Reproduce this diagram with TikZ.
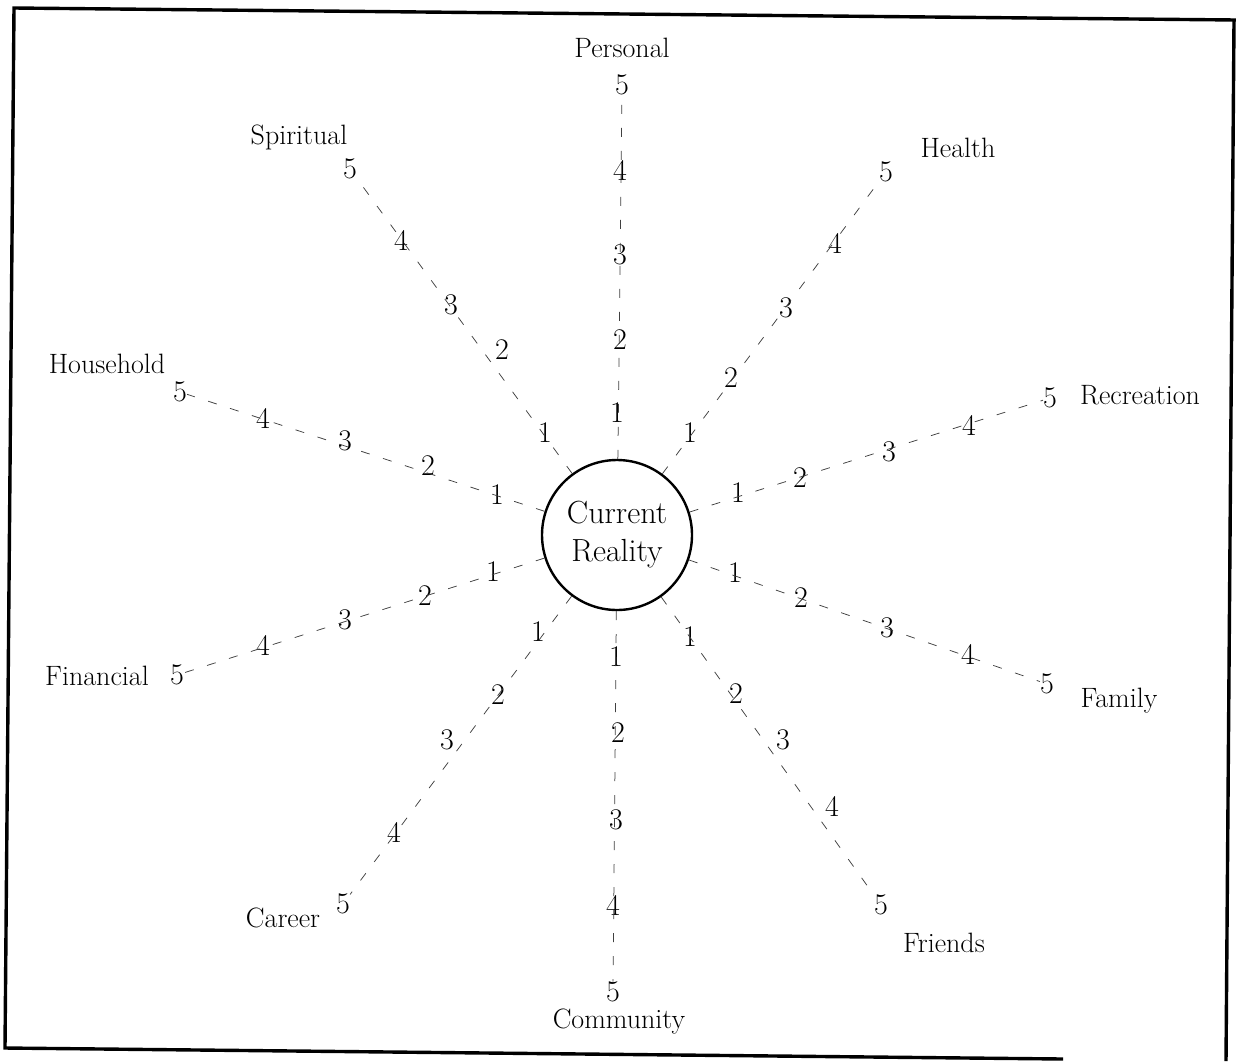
\documentclass[tikz,border=0pt]{standalone}
\tikzset{
  lbl/.style={font=\fontsize{28}{32}\selectfont, anchor=base, inner sep=0pt},
  num/.style={font=\fontsize{30}{34}\selectfont, inner sep=0pt},
  spoke/.style={draw=black!75, line width=0.75pt, dash pattern=on 9pt off 14pt},
  frame/.style={draw=black, line width=3.4pt},
  hub/.style={circle, draw=black, line width=2.4pt, minimum size=150pt, inner sep=0pt,
              align=center, font=\fontsize{32}{38}\selectfont},
}
\begin{document}
\begin{tikzpicture}[x=1pt,y=-1pt]
\useasboundingbox (0,0) rectangle (1236,1061);
% frame (slightly skewed, as scanned)
\coordinate (ftr) at (1236,20);
\coordinate (ftl) at (14,8);
\coordinate (fbl) at (5,1048);
\coordinate (fbr) at (1063,1059);
\coordinate (frt) at (1234,20);
\coordinate (frb) at (1226,1061);
\draw[frame] (ftr) -- (ftl) -- (fbl) -- (fbr);
\draw[frame] (frt) -- (frb);

% hub
\node[hub] (cr) at (617,535) {Current\\Reality};

% Personal
\node[num] (pe1) at (617,413) {1};
\node[num] (pe2) at (620,340) {2};
\node[num] (pe3) at (620,255) {3};
\node[num] (pe4) at (620,170) {4};
\node[num] (pe5) at (622,85) {5};
\node[lbl] (pe) at (622,57) {Personal};
% Health
\node[num] (he1) at (690,433) {1};
\node[num] (he2) at (731,378) {2};
\node[num] (he3) at (786,308) {3};
\node[num] (he4) at (835,243) {4};
\node[num] (he5) at (886,172) {5};
\node[lbl] (he) at (958,157) {Health};
% Recreation
\node[num] (re1) at (738,493) {1};
\node[num] (re2) at (800,478) {2};
\node[num] (re3) at (889,452) {3};
\node[num] (re4) at (969,425) {4};
\node[num] (re5) at (1050,398) {5};
\node[lbl] (re) at (1140,404) {Recreation};
% Family
\node[num] (fa1) at (735,573) {1};
\node[num] (fa2) at (801,598) {2};
\node[num] (fa3) at (887,628) {3};
\node[num] (fa4) at (968,654) {4};
\node[num] (fa5) at (1047,684) {5};
\node[lbl] (fa) at (1119,707) {Family};
% Friends
\node[num] (fr1) at (690,637) {1};
\node[num] (fr2) at (736,694) {2};
\node[num] (fr3) at (783,740) {3};
\node[num] (fr4) at (832,806) {4};
\node[num] (fr5) at (881,905) {5};
\node[lbl] (fr) at (944,952) {Friends};
% Community
\node[num] (co1) at (616,657) {1};
\node[num] (co2) at (618,733) {2};
\node[num] (co3) at (616,820) {3};
\node[num] (co4) at (613,905) {4};
\node[num] (co5) at (613,992) {5};
\node[lbl] (co) at (619,1028) {Community};
% Career
\node[num] (ca1) at (538,632) {1};
\node[num] (ca2) at (498,695) {2};
\node[num] (ca3) at (447,740) {3};
\node[num] (ca4) at (394,832) {4};
\node[num] (ca5) at (343,904) {5};
\node[lbl] (ca) at (283,927) {Career};
% Financial
\node[num] (fi1) at (493,572) {1};
\node[num] (fi2) at (425,596) {2};
\node[num] (fi3) at (345,620) {3};
\node[num] (fi4) at (263,645) {4};
\node[num] (fi5) at (177,675) {5};
\node[lbl] (fi) at (97,685) {Financial};
% Household
\node[num] (ho1) at (497,495) {1};
\node[num] (ho2) at (428,466) {2};
\node[num] (ho3) at (345,441) {3};
\node[num] (ho4) at (263,418) {4};
\node[num] (ho5) at (180,392) {5};
\node[lbl] (ho) at (107,373) {Household};
% Spiritual
\node[num] (sp1) at (545,433) {1};
\node[num] (sp2) at (502,350) {2};
\node[num] (sp3) at (451,305) {3};
\node[num] (sp4) at (401,240) {4};
\node[num] (sp5) at (350,169) {5};
\node[lbl] (sp) at (299,144) {Spiritual};

% spokes
\foreach \s in {pe,he,re,fa,fr,co,ca,fi,ho,sp}
  \draw[spoke] (cr) -- (\s5);
\end{tikzpicture}
\end{document}
